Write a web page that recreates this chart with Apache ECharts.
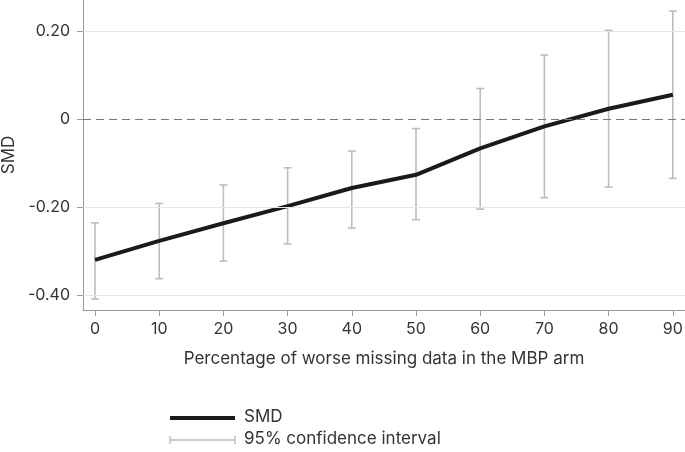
<!DOCTYPE html>
<html><head><meta charset="utf-8">
<script src="https://cdn.jsdelivr.net/npm/echarts@6/dist/echarts.min.js"></script>
<style>html,body{margin:0;padding:0;background:#fff}#c{width:685px;height:452px}</style>
</head><body><div id="c"></div>
<script>
var categories = [0, 10, 20, 30, 40, 50, 60, 70, 80, 90];
var smd = [-0.320, -0.277, -0.237, -0.198, -0.157, -0.127, -0.067, -0.017, 0.023, 0.055];
var ciLow = [-0.409, -0.363, -0.323, -0.284, -0.248, -0.229, -0.205, -0.179, -0.155, -0.135];
var ciHigh = [-0.236, -0.192, -0.150, -0.111, -0.073, -0.022, 0.069, 0.145, 0.201, 0.245];
var yTicks = [-0.4, -0.2, 0, 0.2];
var yTickLabels = {'-0.4': '-0.40', '-0.2': '-0.20', '0': '0', '0.2': '0.20'};

var font = 'Inter, "Noto Sans", sans-serif';
var chart = echarts.init(document.getElementById('c'));
var lineData = categories.map(function (c, i) { return [c, smd[i]]; });
var ciData = categories.map(function (c, i) { return [c, ciLow[i], ciHigh[i]]; });

chart.setOption({
  animation: false,
  grid: {left: 83, right: 0, top: 0, bottom: 142, containLabel: false, outerBoundsMode: 'none'},
  xAxis: {
    type: 'value', min: -1.87, max: 91.9,
    name: 'Percentage of worse missing data in the MBP arm',
    nameLocation: 'middle', nameGap: 40,
    nameTextStyle: {fontFamily: font, fontSize: 17, color: '#333'},
    axisLine: {show: true, onZero: false, lineStyle: {color: '#999', width: 1}},
    axisTick: {show: true, length: 6, customValues: categories, lineStyle: {color: '#999'}},
    axisLabel: {customValues: categories, fontFamily: font, fontSize: 16, color: '#333', margin: 11},
    splitLine: {show: false}
  },
  yAxis: {
    type: 'value', min: -0.434, max: 0.27,
    name: 'SMD', nameLocation: 'middle', nameGap: 66, nameRotate: 90,
    nameTextStyle: {fontFamily: font, fontSize: 17, color: '#333'},
    axisLine: {show: true, onZero: false, lineStyle: {color: '#999', width: 1}},
    axisTick: {show: true, length: 6, customValues: yTicks, lineStyle: {color: '#999'}},
    axisLabel: {customValues: yTicks, fontFamily: font, fontSize: 16, color: '#333', margin: 13,
      formatter: function (v) { var k = String(Math.round(v * 10) / 10); return yTickLabels[k] !== undefined ? yTickLabels[k] : ''; }},
    splitLine: {show: false}
  },
  series: [
    {
      type: 'line', data: [], silent: true,
      markLine: {
        symbol: 'none', silent: true, label: {show: false},
        data: [
          {yAxis: 0.2, lineStyle: {color: '#e6e6e6', width: 1, type: 'solid'}},
          {yAxis: -0.2, lineStyle: {color: '#e6e6e6', width: 1, type: 'solid'}},
          {yAxis: -0.4, lineStyle: {color: '#e6e6e6', width: 1, type: 'solid'}},
          {yAxis: 0, lineStyle: {color: '#777', width: 1.2, type: [8, 5]}}
        ]
      }
    },
    {
      type: 'custom', data: ciData, z: 3,
      renderItem: function (params, api) {
        var x = api.value(0);
        var lo = api.coord([x, api.value(1)]);
        var hi = api.coord([x, api.value(2)]);
        var w = 4;
        var st = {stroke: '#bdbdbd', lineWidth: 1.6};
        return {type: 'group', children: [
          {type: 'line', shape: {x1: lo[0], y1: lo[1], x2: hi[0], y2: hi[1]}, style: st},
          {type: 'line', shape: {x1: lo[0] - w, y1: lo[1], x2: lo[0] + w, y2: lo[1]}, style: st},
          {type: 'line', shape: {x1: hi[0] - w, y1: hi[1], x2: hi[0] + w, y2: hi[1]}, style: st}
        ]};
      }
    },
    {
      type: 'line', data: lineData, z: 4, symbol: 'none',
      lineStyle: {color: '#1a1a1a', width: 4}
    }
  ],
  graphic: [
    {type: 'line', shape: {x1: 170, y1: 418, x2: 235, y2: 418}, style: {stroke: '#1a1a1a', lineWidth: 4}},
    {type: 'text', left: 244, top: 408, style: {text: 'SMD', fontFamily: font, fontSize: 17, fill: '#333'}},
    {type: 'group', children: [
      {type: 'line', shape: {x1: 170, y1: 440, x2: 235, y2: 440}, style: {stroke: '#bdbdbd', lineWidth: 1.4}},
      {type: 'line', shape: {x1: 170, y1: 436, x2: 170, y2: 444}, style: {stroke: '#bdbdbd', lineWidth: 1.4}},
      {type: 'line', shape: {x1: 235, y1: 436, x2: 235, y2: 444}, style: {stroke: '#bdbdbd', lineWidth: 1.4}}
    ]},
    {type: 'text', left: 244, top: 430, style: {text: '95% confidence interval', fontFamily: font, fontSize: 17, fill: '#333'}}
  ]
});
</script></body></html>
